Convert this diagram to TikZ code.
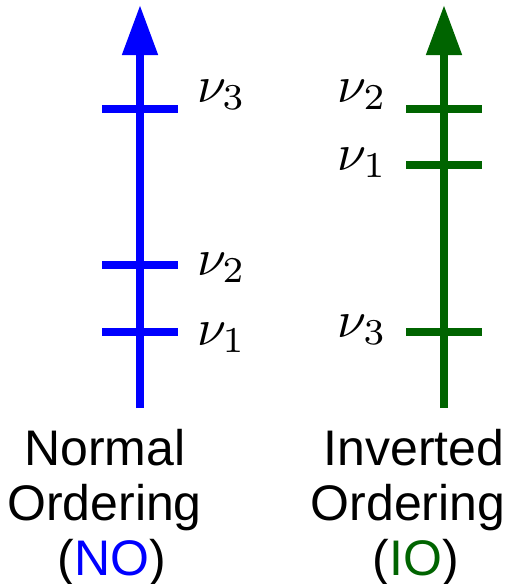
\documentclass[tikz,border=0pt]{standalone}
\usepackage{fontspec}
\newfontfamily\labelfont{Liberation Sans}
\usetikzlibrary{arrows.meta}
\definecolor{noblue}{RGB}{0,0,255}
\definecolor{iogreen}{RGB}{0,100,0}
\begin{document}
\begin{tikzpicture}[x=1pt,y=-1pt,
  axis/.style={line width=8pt,-{Triangle[length=50pt,width=34pt]}},
  tick/.style={line width=8pt},
  masslabel/.style={inner sep=0pt,scale=5.2,anchor=base west},
  masslabelr/.style={inner sep=0pt,scale=5.2,anchor=base east},
  caption/.style={inner sep=0pt,anchor=base,font=\labelfont\fontsize{50}{56}\selectfont}]
\useasboundingbox (0,0) rectangle (530,584);
% Normal ordering
\coordinate (nob) at (140,408);
\coordinate (not) at (140,5);
\draw[axis,noblue] (nob) -- (not);
\coordinate (n3a) at (102,109); \coordinate (n3b) at (178,109);
\coordinate (n2a) at (102,265); \coordinate (n2b) at (178,265);
\coordinate (n1a) at (102,332); \coordinate (n1b) at (178,332);
\draw[tick,noblue] (n3a) -- (n3b);
\draw[tick,noblue] (n2a) -- (n2b);
\draw[tick,noblue] (n1a) -- (n1b);
\node[masslabel] (nl3) at (196,102) {$\nu_3$};
\node[masslabel] (nl2) at (196,275) {$\nu_2$};
\node[masslabel] (nl1) at (196,345) {$\nu_1$};
% Inverted ordering
\coordinate (iob) at (444,408);
\coordinate (iot) at (444,5);
\draw[axis,iogreen] (iob) -- (iot);
\coordinate (i2a) at (406,109); \coordinate (i2b) at (482,109);
\coordinate (i1a) at (406,165); \coordinate (i1b) at (482,165);
\coordinate (i3a) at (406,332); \coordinate (i3b) at (482,332);
\draw[tick,iogreen] (i2a) -- (i2b);
\draw[tick,iogreen] (i1a) -- (i1b);
\draw[tick,iogreen] (i3a) -- (i3b);
\node[masslabelr] (il2) at (388,102) {$\nu_2$};
\node[masslabelr] (il1) at (388,170) {$\nu_1$};
\node[masslabelr] (il3) at (388,337) {$\nu_3$};
% captions
\node[caption] (c1) at (105,465) {Normal};
\node[caption] (c2) at (104.5,520) {Ordering};
\node[caption] (c3) at (112,575) {(\textcolor{noblue}{NO})};
\node[caption] (d1) at (414,465) {Inverted};
\node[caption] (d2) at (408,520) {Ordering};
\node[caption] (d3) at (416,575) {(\textcolor{iogreen}{IO})};
\end{tikzpicture}
\end{document}
